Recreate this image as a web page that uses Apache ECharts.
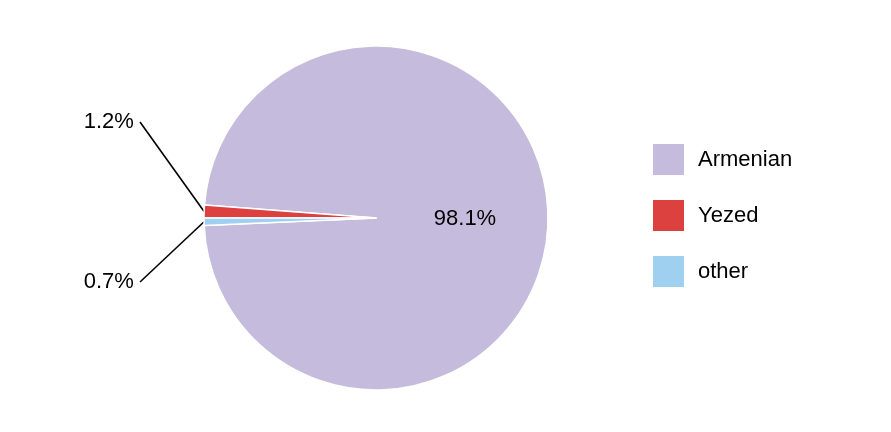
<!DOCTYPE html>
<html><head><meta charset="utf-8">
<script src="https://cdn.jsdelivr.net/npm/echarts@6/dist/echarts.min.js"></script>
<style>html,body{margin:0;padding:0;background:#fff}#c{width:891px;height:432px}</style>
</head><body><div id="c"></div>
<script>
const categories = ['Armenian', 'Yezed', 'other'];
const values = [98.1, 1.2, 0.7];
const colors = ['#c5bbdc', '#dc413f', '#a0d0ef'];

const chart = echarts.init(document.getElementById('c'), null, {renderer: 'canvas'});
const font = 'Liberation Sans, Arial, Helvetica, sans-serif';
chart.setOption({
  animation: false,
  color: colors,
  legend: {
    orient: 'vertical', left: 651, top: 142, padding: 0,
    itemWidth: 33, itemHeight: 33, itemGap: 21,
    icon: 'rect',
    textStyle: {fontSize: 22, fontFamily: font, color: '#000', padding: [0, 0, 0, 8]},
    data: categories
  },
  series: [{
    type: 'pie',
    center: [376, 218], radius: 172,
    startAngle: 182.52, clockwise: false,
    itemStyle: {borderColor: '#fff', borderWidth: 1.5},
    label: {
      formatter: p => p.value.toFixed(1) + '%' + (p.dataIndex === 0 ? '' : '\u00a0'),
      fontSize: 22, fontFamily: font, color: '#000'
    },
    labelLine: {show: true, length: 20, length2: 0, smooth: false, lineStyle: {color: '#000', width: 1.6}},
    labelLayout: function (params) {
      if (params.dataIndex === 1) return {x: 140, y: 122, align: 'right', verticalAlign: 'middle'};
      if (params.dataIndex === 2) return {x: 140, y: 282, align: 'right', verticalAlign: 'middle'};
      return {};
    },
    data: categories.map((c, i) => ({
      name: c, value: values[i],
      label: i === 0 ? {position: 'inside'} : {position: 'outside'},
      labelLine: i === 0 ? {show: false} : {show: true}
    }))
  }]
});
</script></body></html>
